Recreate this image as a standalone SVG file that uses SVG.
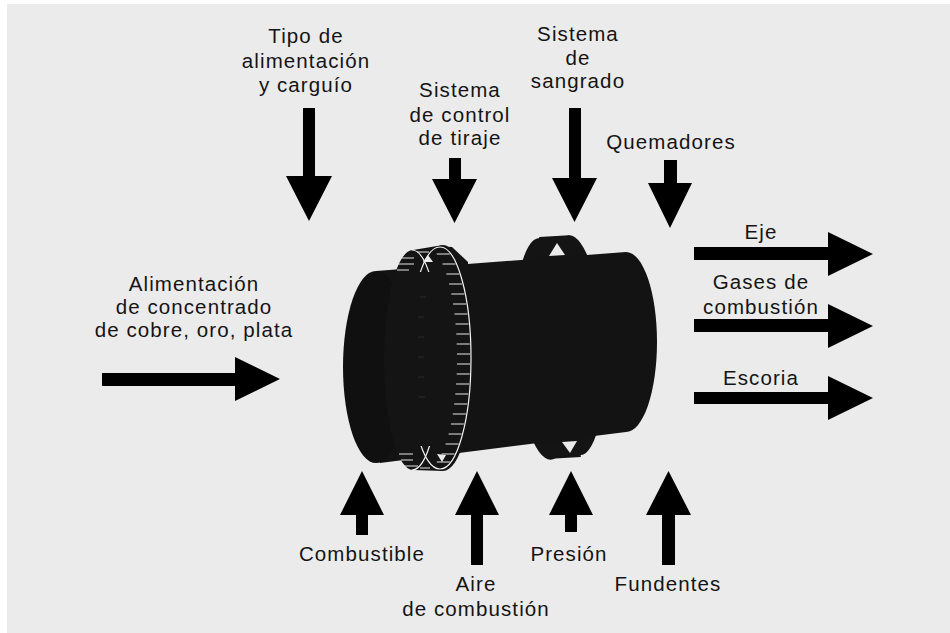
<svg xmlns="http://www.w3.org/2000/svg" width="950" height="633" viewBox="0 0 950 633">
  <defs>
    <style>
      .lbl { font-family: "Liberation Sans", Arial, sans-serif; font-size: 20.5px; letter-spacing: 1.1px; fill: #141414; text-anchor: middle; }
      .arrow { fill: #000; }
      .dark { fill: #131313; }
      .ring { fill: #141414; }
      .edge { fill: none; stroke: #f2f2f2; stroke-width: 1.2; }
      .tick { fill: none; stroke: #e6e6e6; stroke-width: 1; }
      .hole { fill: #ebebeb; }
    </style>
    <clipPath id="ringEnds">
      <rect x="370" y="230" width="120" height="42"/>
      <rect x="370" y="446" width="120" height="40"/>
    </clipPath>
  </defs>

  <!-- page -->
  <rect x="0" y="0" width="950" height="633" fill="#ffffff"/>
  <rect x="7" y="4" width="943" height="629" fill="#ebebeb"/>

  <!-- furnace drum -->
  <g id="furnace">
    <!-- bleed ring (behind the shell) -->
    <g id="ring-sangrado" transform="rotate(-3 560 347)">
      <ellipse class="ring" cx="545" cy="348" rx="30" ry="111"/>
      <ellipse class="ring" cx="575" cy="346" rx="29" ry="110"/>
      <rect class="ring" x="545" y="236" width="30" height="222"/>
    </g>
    <!-- shell -->
    <path class="dark" d="M376 271L626 252A31 90 0 0 1 626 432L380 463Z"/>
    <!-- near end face -->
    <ellipse cx="376" cy="367" rx="33" ry="96" fill="#101010"/>
    <!-- openings in the bleed ring -->
    <polygon class="hole" points="549,256 565,255 557,243"/>
    <polygon class="hole" points="562,442 577,441 570,453"/>

    <!-- draught control ring -->
    <g id="ring-tiraje">
      <ellipse class="ring" cx="413" cy="360" rx="29" ry="110"/>
      <ellipse class="ring" cx="443" cy="358" rx="31" ry="113"/>
      <polygon class="ring" points="413,250 443,245 443,471 413,470"/>
      <path class="ring" d="M436 246L452 247L468 262L468 275L445 275Z"/>
      <!-- graduated rim -->
      <path class="edge" d="M440 247A31 111 0 0 1 440 469"/>
      <g clip-path="url(#ringEnds)">
        <path class="edge" d="M440 247A31 111 0 0 0 440 469"/>
        <path class="edge" d="M412 250A28 110 0 0 1 412 470"/>
        <path class="tick" d="M400 258h14M398 264h16M397 270h12M417 252h12"/>
        <path class="tick" d="M399 454h14M401 460h12M404 466h14M420 468h10"/>
      </g>
      <path class="tick" d="M449.8 254h-13M455.5 264h-13M459.3 274h-13M462.1 284h-13M464.3 294h-13M466.1 304h-13M467.5 314h-13M468.5 324h-13M469.3 334h-13M469.7 344h-13M470 354h-13M470 364h-13M469.7 374h-13M469.1 384h-13M468.3 394h-13M467.2 404h-13M465.8 414h-13M463.9 424h-13M461.6 434h-13M458.6 444h-13M454.6 454h-13M449.8 462h-13"/>
      <path d="M418 337h6M418 357h6M418 377h6M419 397h6M418 317h6M420 297h6" fill="none" stroke="#2a2a2a" stroke-width="1"/>
      <polygon class="hole" points="423,262 433,262 428,255"/>
      <polygon class="hole" points="437,454 446,455 442,462"/>
    </g>
  </g>

  <!-- arrows -->
  <g id="connectors">
    <path class="arrow" d="M303 108H315V176H332L309 221L286 176H303Z"/>
    <path class="arrow" d="M449 158H461V179H477L454.5 223L432 179H449Z"/>
    <path class="arrow" d="M569 108H581V178H597L574.5 222L552 178H569Z"/>
    <path class="arrow" d="M664 160H677V183H692L670 228L648 183H664Z"/>
    <path class="arrow" d="M356 535V515H340L362 471L384 515H368V535Z"/>
    <path class="arrow" d="M471 565V515H455L477 471L499 515H483V565Z"/>
    <path class="arrow" d="M565 532V515H549L571 471L593 515H577V532Z"/>
    <path class="arrow" d="M662 565V515H646L668.5 471L691 515H675V565Z"/>
    <path class="arrow" d="M102 373H235V357L280 379L235 401V386H102Z"/>
    <path class="arrow" d="M694 247H828V232L873 254L828 276V260H694Z"/>
    <path class="arrow" d="M694 319H828V304L873 326L828 348V332H694Z"/>
    <path class="arrow" d="M694 392H828V376L873 398L828 420V404H694Z"/>
  </g>

  <!-- inputs -->
  <g id="tipo-alimentacion">
    <text class="lbl" x="306" y="43">Tipo de</text>
    <text class="lbl" x="306" y="68">alimentación</text>
    <text class="lbl" x="306" y="92">y carguío</text>
  </g>
  <g id="control-tiraje">
    <text class="lbl" x="460" y="97">Sistema</text>
    <text class="lbl" x="460" y="122">de control</text>
    <text class="lbl" x="460" y="145">de tiraje</text>
  </g>
  <g id="sangrado">
    <text class="lbl" x="578" y="41">Sistema</text>
    <text class="lbl" x="578" y="65">de</text>
    <text class="lbl" x="578" y="88">sangrado</text>
  </g>
  <g id="quemadores">
    <text class="lbl" x="671" y="149">Quemadores</text>
  </g>
  <g id="alimentacion">
    <text class="lbl" x="194" y="291">Alimentación</text>
    <text class="lbl" x="194" y="314">de concentrado</text>
    <text class="lbl" x="194" y="337">de cobre, oro, plata</text>
  </g>
  <g id="combustible">
    <text class="lbl" x="362" y="561">Combustible</text>
  </g>
  <g id="aire">
    <text class="lbl" x="476" y="591">Aire</text>
    <text class="lbl" x="476" y="616">de combustión</text>
  </g>
  <g id="presion">
    <text class="lbl" x="569" y="561">Presión</text>
  </g>
  <g id="fundentes">
    <text class="lbl" x="668" y="591">Fundentes</text>
  </g>

  <!-- outputs -->
  <g id="eje">
    <text class="lbl" x="761" y="239">Eje</text>
  </g>
  <g id="gases">
    <text class="lbl" x="761" y="289">Gases de</text>
    <text class="lbl" x="761" y="314">combustión</text>
  </g>
  <g id="escoria">
    <text class="lbl" x="761" y="385">Escoria</text>
  </g>
</svg>
